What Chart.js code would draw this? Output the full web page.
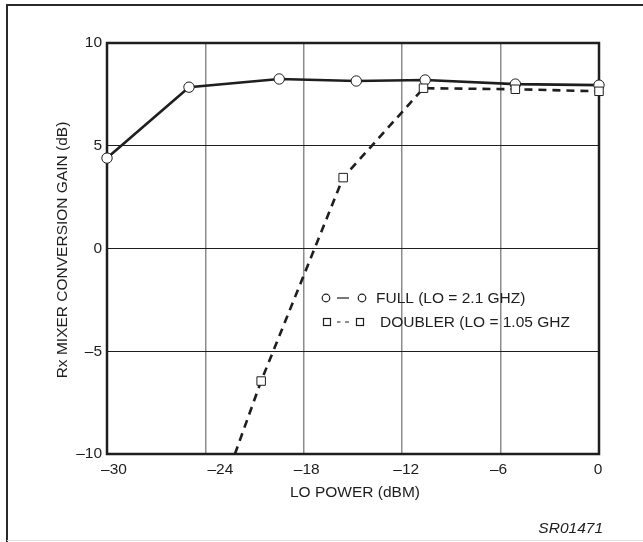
<!DOCTYPE html>
<html>
<head>
<meta charset="utf-8">
<script src="https://cdn.jsdelivr.net/npm/chart.js@4/dist/chart.umd.min.js"></script>
<style>
  html, body { margin: 0; padding: 0; background: #fff; }
  canvas { display: block; }
</style>
</head>
<body>
<canvas id="c" width="643" height="542"></canvas>
<script>
// ---- data ----
const seriesLabels = ['FULL (LO = 2.1 GHZ)', 'DOUBLER (LO = 1.05 GHZ'];
const fullX = [-30, -25, -19.5, -14.8, -10.6, -5.1, 0];
const fullY = [4.4, 7.85, 8.25, 8.15, 8.2, 8.0, 7.95];
const doublerX = [-22.2, -20.6, -15.6, -10.7, -5.1, 0];
const doublerY = [-10, -6.45, 3.45, 7.8, 7.75, 7.65];
const doublerMarker = [false, true, true, true, true, true];
const xTickValues = [-30, -24, -18, -12, -6, 0];
const xTickLabels = ['\u201330', '\u201324', '\u201318', '\u201312', '\u20136', '0'];
const yTickValues = [-10, -5, 0, 5, 10];
const yTickLabels = ['\u201310', '\u20135', '0', '5', '10'];
const xTitle = 'LO POWER (dBM)';
const yTitle = 'Rx MIXER CONVERSION GAIN (dB)';
const figureCode = 'SR01471';

// ---- styling ----
const FONT = '"Liberation Sans", Arial, Helvetica, sans-serif';
const FS = 15.5;
const INK = '#1e1e1e';
const xLabelShift = [7, 15, 3, 4, -2, -1]; // hand-placed label nudges in the original figure

const toPts = (xs, ys) => xs.map((x, i) => ({ x: x, y: ys[i] }));

const decor = {
  id: 'decor',
  beforeDraw(chart) {
    const ctx = chart.ctx;
    ctx.save();
    ctx.fillStyle = '#fff';
    ctx.fillRect(0, 0, chart.width, chart.height);
    ctx.strokeStyle = '#2a2a2a';
    ctx.lineWidth = 2;
    ctx.beginPath();
    ctx.moveTo(7, 542);
    ctx.lineTo(7, 5);
    ctx.lineTo(643, 5);
    ctx.stroke();
    ctx.strokeStyle = '#e2e2e2';
    ctx.lineWidth = 1;
    ctx.beginPath();
    ctx.moveTo(7, 540.5);
    ctx.lineTo(643, 540.5);
    ctx.stroke();
    ctx.restore();
  },
  beforeDatasetsDraw(chart) {
    const ctx = chart.ctx, a = chart.chartArea;
    ctx.save();
    ctx.strokeStyle = INK;
    ctx.lineWidth = 2.5;
    ctx.strokeRect(a.left, a.top, a.right - a.left, a.bottom - a.top);
    ctx.restore();
  },
  afterDraw(chart) {
    const ctx = chart.ctx, a = chart.chartArea, xs = chart.scales.x;
    ctx.save();
    ctx.fillStyle = INK;
    ctx.font = FS + 'px ' + FONT;
    ctx.textAlign = 'center';
    ctx.textBaseline = 'middle';
    // x tick labels
    xTickValues.forEach((v, i) => {
      ctx.fillText(xTickLabels[i], xs.getPixelForValue(v) + xLabelShift[i], a.bottom + 16);
    });
    // axis titles
    ctx.fillText(xTitle, (a.left + a.right) / 2 + 2, 493);
    ctx.save();
    ctx.translate(63, 250);
    ctx.rotate(-Math.PI / 2);
    ctx.fillText(yTitle, 0, 0);
    ctx.restore();
    // figure code
    ctx.font = 'italic ' + FS + 'px ' + FONT;
    ctx.textAlign = 'right';
    ctx.fillText(figureCode, 603, 529);
    // legend
    ctx.font = FS + 'px ' + FONT;
    ctx.textAlign = 'left';
    ctx.strokeStyle = INK;
    ctx.lineWidth = 1.2;
    const r1 = 298, r2 = 322;
    const circ = (x, y) => { ctx.beginPath(); ctx.arc(x, y, 3.8, 0, Math.PI * 2); ctx.fillStyle = '#fff'; ctx.fill(); ctx.stroke(); };
    const sq = (x, y) => { ctx.fillStyle = '#fff'; ctx.fillRect(x - 3.5, y - 3.5, 7, 7); ctx.strokeRect(x - 3.5, y - 3.5, 7, 7); };
    circ(326, r1);
    ctx.beginPath(); ctx.moveTo(337, r1); ctx.lineTo(349, r1); ctx.stroke();
    circ(362, r1);
    ctx.fillStyle = INK;
    ctx.fillText(seriesLabels[0], 376, r1 + 1);
    sq(327, r2);
    ctx.beginPath(); ctx.moveTo(337, r2); ctx.lineTo(340.5, r2); ctx.moveTo(345, r2); ctx.lineTo(349, r2); ctx.stroke();
    sq(360, r2);
    ctx.fillStyle = INK;
    ctx.fillText(seriesLabels[1], 380, r2 + 1);
    ctx.restore();
  }
};

new Chart(document.getElementById('c'), {
  type: 'scatter',
  data: {
    datasets: [
      {
        label: seriesLabels[1],
        data: toPts(doublerX, doublerY),
        showLine: true,
        borderColor: INK,
        borderWidth: 2.6,
        borderDash: [8, 6],
        pointStyle: 'rect',
        pointRadius: doublerMarker.map(m => m ? 6 : 0),
        pointBackgroundColor: '#fff',
        pointBorderColor: INK,
        pointBorderWidth: 1,
        tension: 0,
        clip: false,
        order: 0
      },
      {
        label: seriesLabels[0],
        data: toPts(fullX, fullY),
        showLine: true,
        borderColor: INK,
        borderWidth: 2.6,
        pointStyle: 'circle',
        pointRadius: 5.2,
        pointBackgroundColor: '#fff',
        pointBorderColor: INK,
        pointBorderWidth: 1,
        tension: 0,
        clip: false,
        order: 1
      }
    ]
  },
  options: {
    responsive: false,
    animation: false,
    devicePixelRatio: 1,
    events: [],
    layout: { padding: { top: 43, right: 44, left: 0, bottom: 0 } },
    plugins: { legend: { display: false }, tooltip: { enabled: false }, title: { display: false } },
    scales: {
      x: {
        type: 'linear',
        min: -30, max: 0,
        afterBuildTicks: s => { s.ticks = xTickValues.map(v => ({ value: v })); },
        afterFit: s => { s.height = 88; },
        grid: { color: '#8c8c8c', lineWidth: 1.5, drawTicks: false },
        border: { display: false },
        ticks: { display: false }
      },
      y: {
        type: 'linear',
        min: -10, max: 10,
        afterBuildTicks: s => { s.ticks = yTickValues.map(v => ({ value: v })); },
        afterFit: s => { s.width = 107; },
        grid: { color: INK, lineWidth: 1, drawTicks: false },
        border: { display: false },
        ticks: {
          color: INK,
          font: { family: FONT, size: FS },
          padding: 5,
          autoSkip: false,
          callback: (v) => yTickLabels[yTickValues.indexOf(v)]
        }
      }
    }
  },
  plugins: [decor]
});
</script>
</body>
</html>
